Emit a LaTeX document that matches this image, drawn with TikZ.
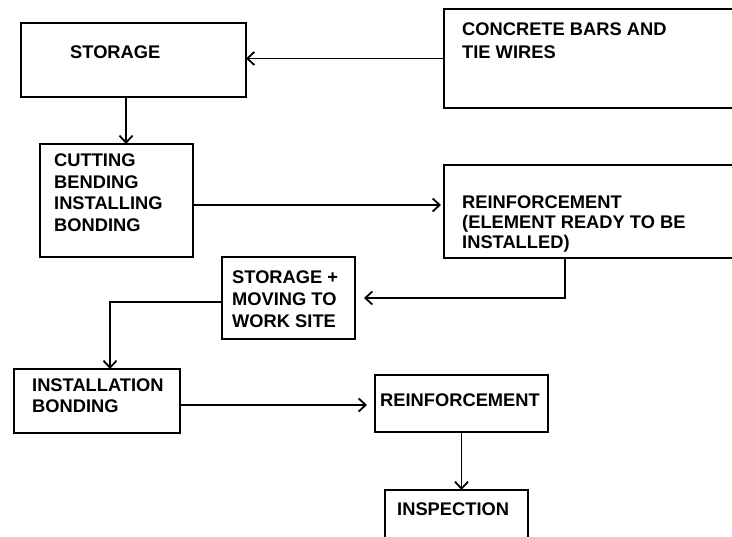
\documentclass[tikz,border=0pt]{standalone}
\usepackage{fontspec}
\setmainfont{Liberation Sans}
\usetikzlibrary{arrows.meta}
\begin{document}
\begin{tikzpicture}[x=1pt,y=-1pt,
  box/.style={draw, line width=2.4pt, rectangle, inner sep=0pt, outer sep=0pt, anchor=north west, fill=white},
  txt/.style={anchor=base west, inner sep=0pt, font=\fontsize{18.3}{22}\selectfont\bfseries, text=black},
  arr/.style={line width=1.8pt, -{Straight Barb[length=7pt,width=13pt,line width=1.8pt]}}]
\useasboundingbox (0,0) rectangle (732,537);
\clip (0,0) rectangle (732,537);
\fill[white] (0,0) rectangle (732,537);
% boxes
\node[box, minimum width=225pt, minimum height=74pt] (storage) at (21,23) {};
\node[box, minimum width=316pt, minimum height=99pt] (concrete) at (444,9) {};
\node[box, minimum width=153pt, minimum height=113pt] (cutting) at (40,144) {};
\node[box, minimum width=316pt, minimum height=93pt] (reinfa) at (444,165) {};
\node[box, minimum width=133pt, minimum height=82pt] (storageb) at (222,257) {};
\node[box, minimum width=166pt, minimum height=64pt] (install) at (14,369) {};
\node[box, minimum width=173pt, minimum height=57pt] (reinfb) at (375,375) {};
\node[box, minimum width=143pt, minimum height=70pt] (inspect) at (385,490) {};
% texts
\node[txt] (t1) at (70,58.5) {STORAGE};
\node[txt] (t2a) at (462,35.5) {CONCRETE BARS AND};
\node[txt] (t2b) at (462,58.5) {TIE WIRES};
\node[txt] (t3a) at (54,166.5) {CUTTING};
\node[txt] (t3b) at (54,188.5) {BENDING};
\node[txt] (t3c) at (54,210) {INSTALLING};
\node[txt] (t3d) at (54,232) {BONDING};
\node[txt] (t4a) at (462,209) {REINFORCEMENT};
\node[txt] (t4b) at (462,229) {(ELEMENT READY TO BE};
\node[txt] (t4c) at (462,249) {INSTALLED)};
\node[txt] (t5a) at (232,283.5) {STORAGE +};
\node[txt] (t5b) at (232,305.5) {MOVING TO};
\node[txt] (t5c) at (232,327.5) {WORK SITE};
\node[txt] (t6a) at (32,392) {INSTALLATION};
\node[txt] (t6b) at (32,413) {BONDING};
\node[txt] (t7) at (380,407) {REINFORCEMENT};
\node[txt] (t8) at (397,516) {INSPECTION};
% connectors
\draw[arr] (concrete.west) -- (concrete.west -| storage.east);
\coordinate (c2) at ([xshift=-7.5pt]storage.south);
\draw[arr] (c2) -- (c2 |- cutting.north);
\coordinate (c3) at ([yshift=-4.5pt]cutting.east);
\draw[arr, shorten >=3pt] (c3) -- (c3 -| reinfa.west);
\coordinate (c4) at ([xshift=-37pt]reinfa.south);
\draw[arr, shorten >=9pt] (c4) |- (storageb.east);
\coordinate (c5) at ([yshift=-4pt]storageb.west);
\coordinate (c5b) at ([xshift=13pt]install.north);
\draw[arr] (c5) -| (c5b);
\coordinate (c6) at ([yshift=-4pt]install.east);
\draw[arr, shorten >=8pt] (c6) -- (c6 -| reinfb.west);
\draw[arr] (reinfb.south) -- (inspect.north -| reinfb.south);
\end{tikzpicture}
\end{document}
